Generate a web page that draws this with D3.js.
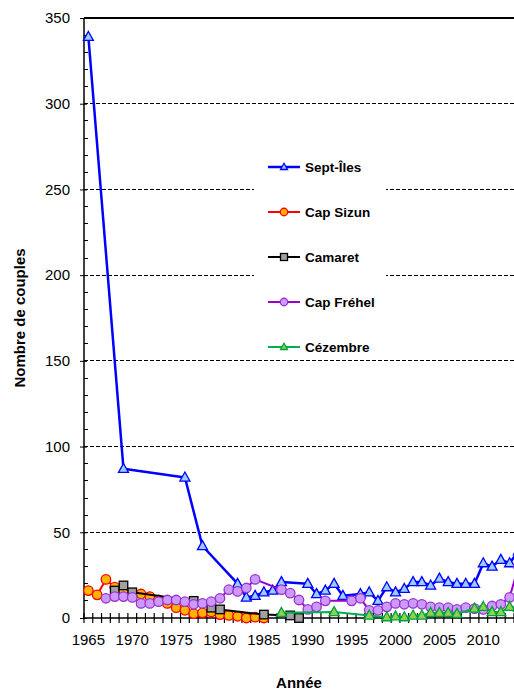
<!DOCTYPE html>
<html><head><meta charset="utf-8">
<script src="https://cdn.jsdelivr.net/npm/d3@7"></script>
<style>body{margin:0;background:#fff}svg{display:block}text{font-family:"Liberation Sans",Arial,sans-serif}</style>
</head><body>
<script>
// ---- data ----
const seriesNames = ["Sept-Îles","Cap Sizun","Camaret","Cap Fréhel","Cézembre"];
const septIles = [[1965,339],[1969,87],[1976,82],[1978,42],[1982,20],[1983,12],[1984,13],[1985,15],[1986,16],[1987,21],[1990,20],[1991,14],[1992,16],[1993,20],[1994,13],[1996,14],[1997,15],[1998,10],[1999,18],[2000,15],[2001,17],[2002,21],[2003,21],[2004,19],[2005,23],[2006,21],[2007,20],[2008,20],[2009,20],[2010,32],[2011,30],[2012,34],[2013,32],[2014,39]];
const capSizun = [[1965,16],[1966,13.5],[1967,22.5],[1968,18],[1969,15],[1970,14],[1971,14],[1972,12.5],[1973,10.5],[1974,8.5],[1975,6],[1976,4.5],[1977,2.5],[1978,3],[1979,3.5],[1980,2],[1981,1.5],[1982,1],[1983,0],[1984,0.5],[1985,0]];
const camaret = [[1968,16],[1969,19],[1970,15],[1977,10],[1979,6],[1980,5],[1985,2],[1988,1.5],[1989,0]];
const capFrehel = [[1967,11.5],[1968,12.5],[1969,12.5],[1970,12],[1971,8.5],[1972,8.5],[1973,9.5],[1974,10.5],[1975,10.5],[1976,9.5],[1977,8],[1978,8.5],[1979,9.5],[1980,11.5],[1981,16.5],[1982,15.5],[1983,17.5],[1984,22.5],[1987,16.5],[1988,14.5],[1989,10.5],[1990,5],[1991,6.5],[1992,10],[1995,10],[1996,11.5],[1997,4.5],[1998,4.5],[1999,6.5],[2000,8.5],[2001,8],[2002,8.5],[2003,8],[2004,6.5],[2005,6],[2006,6],[2007,5],[2008,6],[2009,5.5],[2010,5],[2011,7],[2012,8],[2013,12],[2014,30]];
const cezembre = [[1987,3],[1993,3.5],[1997,1.5],[1999,0.5],[2000,1],[2001,0.5],[2002,1.5],[2003,1.5],[2004,3],[2005,3],[2006,3],[2007,2.5],[2009,5.5],[2010,6.5],[2011,3.5],[2012,3.5],[2013,6.5],[2014,6]];
const yTicks = [0,50,100,150,200,250,300,350];
const xTickLabels = [1965,1970,1975,1980,1985,1990,1995,2000,2005,2010];
const firstYear = 1965, lastYear = 2013;

// ---- styles ----
const styles = [
  {data:septIles, line:"#0000ff", fill:"#99ccff", stroke:"#0000ff", shape:"tri", lw:2.5},
  {data:capSizun, line:"#ff0000", fill:"#ffb400", stroke:"#ff0000", shape:"circ", lw:2},
  {data:camaret, line:"#000000", fill:"#a0a0a0", stroke:"#000000", shape:"sq", lw:2},
  {data:capFrehel, line:"#9900cc", fill:"#cc99ff", stroke:"#9933cc", shape:"circ", lw:2},
  {data:cezembre, line:"#00b050", fill:"#92d050", stroke:"#00a040", shape:"tri", lw:2}
];

const W=514,H=691;
const svg=d3.select("body").append("svg").attr("width",W).attr("height",H);
svg.append("rect").attr("width",W).attr("height",H).attr("fill","#fff");

const L=84,R=514,T=18,B=618;
const x=d3.scaleLinear().domain([firstYear-0.5,lastYear+0.5]).range([L,R]);
const y=d3.scaleLinear().domain([0,350]).range([B,T]);

// gridlines
svg.append("g").selectAll("line").data(yTicks.filter(d=>d>0&&d<350)).join("line")
  .attr("x1",L).attr("x2",R).attr("y1",d=>y(d)).attr("y2",d=>y(d))
  .attr("stroke","#000").attr("stroke-width",1).attr("stroke-dasharray","4,2").attr("shape-rendering","crispEdges");
svg.append("line").attr("x1",L).attr("x2",R).attr("y1",y(350)).attr("y2",y(350))
  .attr("stroke","#000").attr("stroke-width",1.3).attr("shape-rendering","crispEdges");

// legend background (covers gridlines)
svg.append("rect").attr("x",254).attr("y",148).attr("width",132).attr("height",210).attr("fill","#fff");

// y axis
const yAxis=d3.axisLeft(y).tickValues(yTicks).tickSize(5).tickPadding(9);
const gy=svg.append("g").attr("transform",`translate(${L},0)`).call(yAxis);
gy.select(".domain").remove();
gy.selectAll(".tick line").attr("x2",-4).attr("x1",3).attr("stroke","#000");
gy.selectAll("text").attr("font-size",15).attr("fill","#000").attr("font-family","Liberation Sans, Arial");
// minor ticks
const minor=d3.range(0,351,10).filter(d=>d%50!==0);
svg.append("g").selectAll("line").data(minor).join("line")
  .attr("x1",L).attr("x2",L+4).attr("y1",d=>y(d)).attr("y2",d=>y(d)).attr("stroke","#000").attr("shape-rendering","crispEdges");
svg.append("line").attr("x1",L).attr("x2",L).attr("y1",T).attr("y2",B).attr("stroke","#000").attr("stroke-width",1.5);

// x axis
const bounds=d3.range(firstYear-0.5,lastYear+1,1);
svg.append("g").selectAll("line").data(bounds).join("line")
  .attr("x1",d=>x(d)).attr("x2",d=>x(d)).attr("y1",B-5).attr("y2",B+5).attr("stroke","#000").attr("stroke-width",1.2);
svg.append("line").attr("x1",L).attr("x2",R).attr("y1",B).attr("y2",B).attr("stroke","#000").attr("stroke-width",1.5);
svg.append("g").selectAll("text").data(xTickLabels).join("text")
  .attr("x",d=>x(d)).attr("y",645).attr("text-anchor","middle").attr("font-size",15).text(d=>d);

// axis titles
svg.append("text").attr("x",299).attr("y",688).attr("text-anchor","middle").attr("font-size",15).attr("font-weight","bold").text("Année");
svg.append("text").attr("transform",`translate(25,${(T+B)/2}) rotate(-90)`).attr("text-anchor","middle").attr("font-size",15).attr("font-weight","bold").text("Nombre de couples");

// series
const plot=svg.append("g");
const lineGen=d3.line().x(d=>x(d[0])).y(d=>y(d[1]));
function marker(g,shape,cx,cy,s,st){
  if(shape==="circ"){
    g.append("circle").attr("cx",cx).attr("cy",cy).attr("r",s/2).attr("fill",st.fill).attr("stroke",st.stroke).attr("stroke-width",1.3);
  } else if(shape==="sq"){
    g.append("rect").attr("x",cx-s/2).attr("y",cy-s/2).attr("width",s).attr("height",s).attr("fill",st.fill).attr("stroke",st.stroke).attr("stroke-width",1.3);
  } else {
    const h=s*0.9;
    g.append("path").attr("d",`M${cx},${cy-h*0.6}L${cx+s/2},${cy+h*0.4}L${cx-s/2},${cy+h*0.4}Z`).attr("fill",st.fill).attr("stroke",st.stroke).attr("stroke-width",1.3);
  }
}
const sizes={circ:9.5,sq:8.5,tri:10};
styles.forEach(st=>{
  const g=plot.append("g");
  g.append("path").attr("d",lineGen(st.data)).attr("fill","none").attr("stroke",st.line).attr("stroke-width",st.lw).attr("stroke-linejoin","round");
  st.data.forEach(d=>marker(g,st.shape,x(d[0]),y(d[1]),sizes[st.shape],st));
});

// legend
const legY=[167,212,257,302,347];
const lsizes={circ:7.5,sq:7,tri:7};
styles.forEach((st,i)=>{
  const g=svg.append("g");
  g.append("line").attr("x1",268).attr("x2",300).attr("y1",legY[i]).attr("y2",legY[i]).attr("stroke",st.line).attr("stroke-width",st.lw);
  marker(g,st.shape,284,legY[i],lsizes[st.shape],st);
  g.append("text").attr("x",305).attr("y",legY[i]+5).attr("font-size",13.5).attr("font-weight","bold").text(seriesNames[i]);
});
</script>
</body></html>
